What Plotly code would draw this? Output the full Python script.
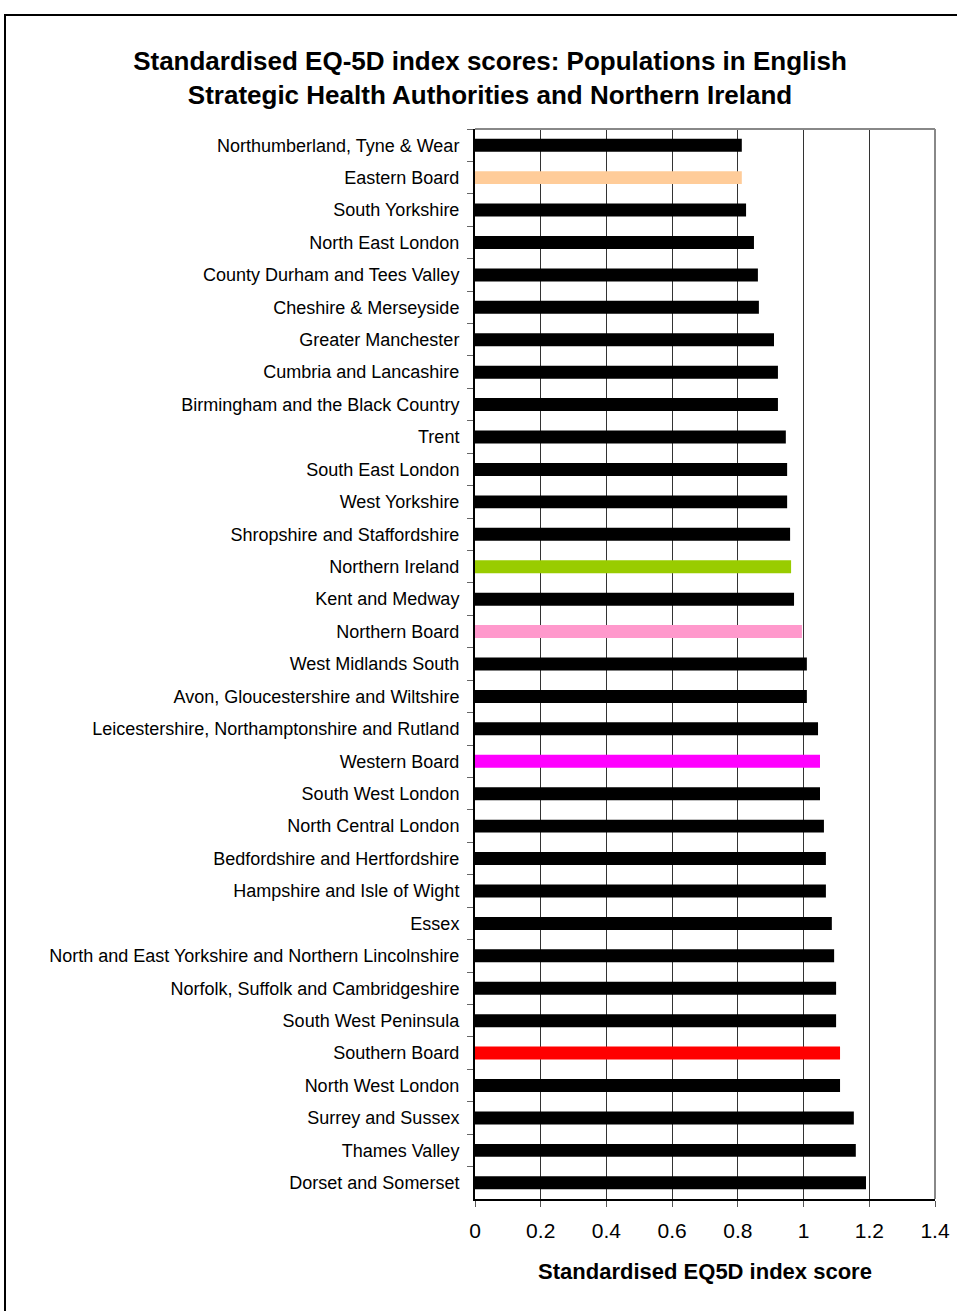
import plotly.graph_objects as go

# Strategic Health Authorities / NI boards, ordered top to bottom
regions = [
    "Northumberland, Tyne & Wear",
    "Eastern Board",
    "South Yorkshire",
    "North East London",
    "County Durham and Tees Valley",
    "Cheshire & Merseyside",
    "Greater Manchester",
    "Cumbria and Lancashire",
    "Birmingham and the Black Country",
    "Trent",
    "South East London",
    "West Yorkshire",
    "Shropshire and Staffordshire",
    "Northern Ireland",
    "Kent and Medway",
    "Northern Board",
    "West Midlands South",
    "Avon, Gloucestershire and Wiltshire",
    "Leicestershire, Northamptonshire and Rutland",
    "Western Board",
    "South West London",
    "North Central London",
    "Bedfordshire and Hertfordshire",
    "Hampshire and Isle of Wight",
    "Essex",
    "North and East Yorkshire and Northern Lincolnshire",
    "Norfolk, Suffolk and Cambridgeshire",
    "South West Peninsula",
    "Southern Board",
    "North West London",
    "Surrey and Sussex",
    "Thames Valley",
    "Dorset and Somerset",
]

scores = [
    0.812, 0.812, 0.825, 0.849, 0.861, 0.864, 0.910, 0.922, 0.922, 0.946,
    0.950, 0.950, 0.959, 0.962, 0.971, 0.995, 1.010, 1.010, 1.044, 1.050,
    1.050, 1.062, 1.068, 1.068, 1.086, 1.093, 1.099, 1.099, 1.111, 1.111,
    1.153, 1.159, 1.190,
]

highlight_colours = {
    "Eastern Board": "#FFCC99",
    "Northern Ireland": "#99CC00",
    "Northern Board": "#FF99CC",
    "Western Board": "#FF00FF",
    "Southern Board": "#FF0000",
}

x_ticks = [0, 0.2, 0.4, 0.6, 0.8, 1, 1.2, 1.4]
x_tick_text = ["0", "0.2", "0.4", "0.6", "0.8", "1", "1.2", "1.4"]

bar_colours = [highlight_colours.get(r, "#000000") for r in regions]

fig = go.Figure(
    go.Bar(
        x=scores,
        y=regions,
        orientation="h",
        width=0.4,
        marker=dict(color=bar_colours, line=dict(width=0)),
        hovertemplate="%{y}: %{x:.3f}<extra></extra>",
    )
)

font_family = "Liberation Sans, Arial, sans-serif"

fig.update_layout(
    width=957,
    height=1311,
    margin=dict(l=475, r=22, t=129, b=112),
    paper_bgcolor="white",
    plot_bgcolor="white",
    showlegend=False,
    font=dict(family=font_family, color="black"),
    title=dict(
        text="<b>Standardised EQ-5D index scores: Populations in English<br>"
             "Strategic Health Authorities and Northern Ireland</b>",
        x=490 / 957,
        xanchor="center",
        y=1 - 70 / 1311,
        yanchor="middle",
        font=dict(size=26, family=font_family, color="black"),
    ),
)

fig.update_xaxes(
    range=[0, 1.4],
    tickvals=x_ticks,
    ticktext=x_tick_text,
    automargin=False,
    showgrid=True,
    gridcolor="#333333",
    gridwidth=1,
    zeroline=False,
    showline=True,
    linecolor="black",
    linewidth=2,
    ticks="outside",
    ticklen=6,
    tickcolor="#555555",
    tickfont=dict(size=21, color="black"),
    ticklabelstandoff=6,
    title=dict(
        text="<b>Standardised EQ5D index score</b>",
        font=dict(size=22, color="black"),
        standoff=22,
    ),
)

fig.update_yaxes(
    categoryorder="array",
    categoryarray=regions,
    autorange="reversed",
    automargin=False,
    showgrid=False,
    zeroline=False,
    showline=True,
    linecolor="black",
    linewidth=2,
    ticks="outside",
    tickson="boundaries",
    ticklen=6,
    tickcolor="#666666",
    tickfont=dict(size=18, color="black"),
    ticklabelstandoff=10,
)

# grey frame on the top and right edges of the plot area
fig.add_shape(type="line", xref="paper", yref="paper", x0=0, x1=1, y0=1, y1=1,
              line=dict(color="#888888", width=2))
fig.add_shape(type="line", xref="paper", yref="paper", x0=1, x1=1, y0=0, y1=1,
              line=dict(color="#888888", width=2))

# outer chart border (runs off the right and bottom edges)
px_l, px_r, py_t, py_b = 475, 935, 129, 1199
def px_to_x(px):
    return (px - px_l) / (px_r - px_l)
def py_to_y(py):
    return (py_b - py) / (py_b - py_t)

fig.add_shape(type="rect", xref="paper", yref="paper",
              x0=px_to_x(5), x1=px_to_x(980), y0=py_to_y(1330), y1=py_to_y(15),
              line=dict(color="black", width=2), fillcolor="rgba(0,0,0,0)", layer="below")

fig.write_html("out.html")
